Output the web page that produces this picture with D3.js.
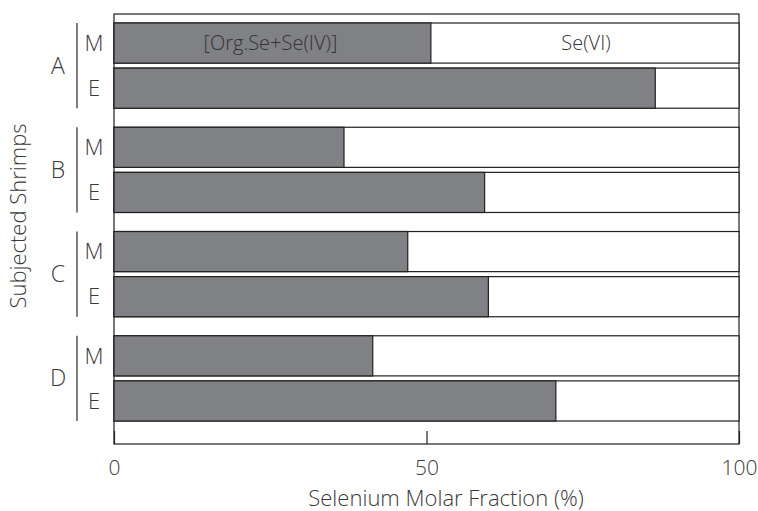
<!DOCTYPE html>
<html>
<head>
<meta charset="utf-8">
<script src="https://cdn.jsdelivr.net/npm/d3@7"></script>
<style>
	body { margin: 0; background: #fff; }
	text { font-family: "Open Sans", "DejaVu Sans", sans-serif; font-weight: 300; fill: #3a3a3a; }
</style>
</head>
<body>
<svg id="chart" width="758" height="511"></svg>
<script>
// shrimp groups and sampling (M / E)
var groups = ["A", "B", "C", "D"];
var parts = ["M", "E"];
// fraction of [Org.Se+Se(IV)] in %, rest is Se(VI)
var orgSeIV = {
	A: [50.7, 86.6],
	B: [36.8, 59.3],
	C: [47.0, 59.9],
	D: [41.4, 70.7]
};
var xTicks = [0, 50, 100];
var seriesNames = ["[Org.Se+Se(IV)]", "Se(VI)"];

var svg = d3.select("#chart");
var plotL = 114, plotR = 739, plotT = 14, plotB = 444;

var xScale = d3.scaleLinear().domain([0, 100]).range([plotL, plotR]);
var yGroup = d3.scaleBand().domain(groups).range([23, 421]).paddingInner(0.1827).paddingOuter(0);
var yPart = d3.scaleBand().domain(parts).range([0, yGroup.bandwidth()]).paddingInner(0.111).paddingOuter(0);

var rows = [];
groups.forEach(function(g){
	parts.forEach(function(p, i){
		rows.push({group: g, part: p, value: orgSeIV[g][i]});
	});
});

// plot frame
svg.append("rect")
	.attr("x", plotL).attr("y", plotT)
	.attr("width", plotR - plotL).attr("height", plotB - plotT)
	.attr("fill", "none").attr("stroke", "#231f20").attr("stroke-width", 1.2);

var rowG = svg.selectAll("g.row")
	.data(rows)
	.enter().append("g")
	.attr("class", "row")
	.attr("transform", function(d){ return "translate(0," + (yGroup(d.group) + yPart(d.part)) + ")"; });

// Se(VI) (white, full width)
rowG.append("rect")
	.attr("x", xScale(0))
	.attr("width", xScale(100) - xScale(0))
	.attr("height", yPart.bandwidth())
	.attr("fill", "#fff").attr("stroke", "#231f20").attr("stroke-width", 1.2);

// [Org.Se+Se(IV)] dark part
rowG.append("rect")
	.attr("x", xScale(0))
	.attr("width", function(d){ return xScale(d.value) - xScale(0); })
	.attr("height", yPart.bandwidth())
	.attr("fill", "#808184").attr("stroke", "#231f20").attr("stroke-width", 1.2);

// series labels inside first bar
var first = rows[0];
var yMid = yGroup(first.group) + yPart(first.part) + yPart.bandwidth() / 2;
svg.append("text")
	.attr("x", xScale(first.value / 2) - 2).attr("y", yMid)
	.attr("dy", "0.35em").attr("text-anchor", "middle")
	.style("font-size", "20px").style("fill", "#333")
	.text(seriesNames[0]);
svg.append("text")
	.attr("x", xScale((first.value + 100) / 2) + 1).attr("y", yMid)
	.attr("dy", "0.35em").attr("text-anchor", "middle")
	.style("font-size", "20px").style("fill", "#333")
	.text(seriesNames[1]);

// x axis
var xAxis = svg.append("g")
	.attr("transform", "translate(0," + plotB + ")")
	.call(d3.axisBottom(xScale).tickValues(xTicks).tickSize(-13).tickPadding(16));
xAxis.select(".domain").remove();
xAxis.selectAll("line").attr("stroke", "#231f20").attr("stroke-width", 1.2);
xAxis.selectAll("text").style("font-size", "21px").style("font-family", null).attr("fill", null);

svg.append("text")
	.attr("x", 446).attr("y", 506)
	.attr("text-anchor", "middle")
	.style("font-size", "22px")
	.text("Selenium Molar Fraction (%)");

// y labels: group letter, bracket, M / E
groups.forEach(function(g){
	var y0 = yGroup(g), y1 = y0 + yGroup.bandwidth();
	svg.append("line")
		.attr("x1", 77).attr("x2", 77).attr("y1", y0).attr("y2", y1)
		.attr("stroke", "#3a3a3a").attr("stroke-width", 1.3);
	svg.append("text")
		.attr("x", 58).attr("y", (y0 + y1) / 2)
		.attr("dy", "0.35em").attr("text-anchor", "middle")
		.style("font-size", "23px")
		.text(g);
	parts.forEach(function(p){
		svg.append("text")
			.attr("x", 94).attr("y", y0 + yPart(p) + yPart.bandwidth() / 2)
			.attr("dy", "0.35em").attr("text-anchor", "middle")
			.style("font-size", "22px")
			.text(p);
	});
});

svg.append("text")
	.attr("transform", "translate(26,216) rotate(-90)")
	.attr("text-anchor", "middle")
	.style("font-size", "22px")
	.text("Subjected Shrimps");
</script>
</body>
</html>
